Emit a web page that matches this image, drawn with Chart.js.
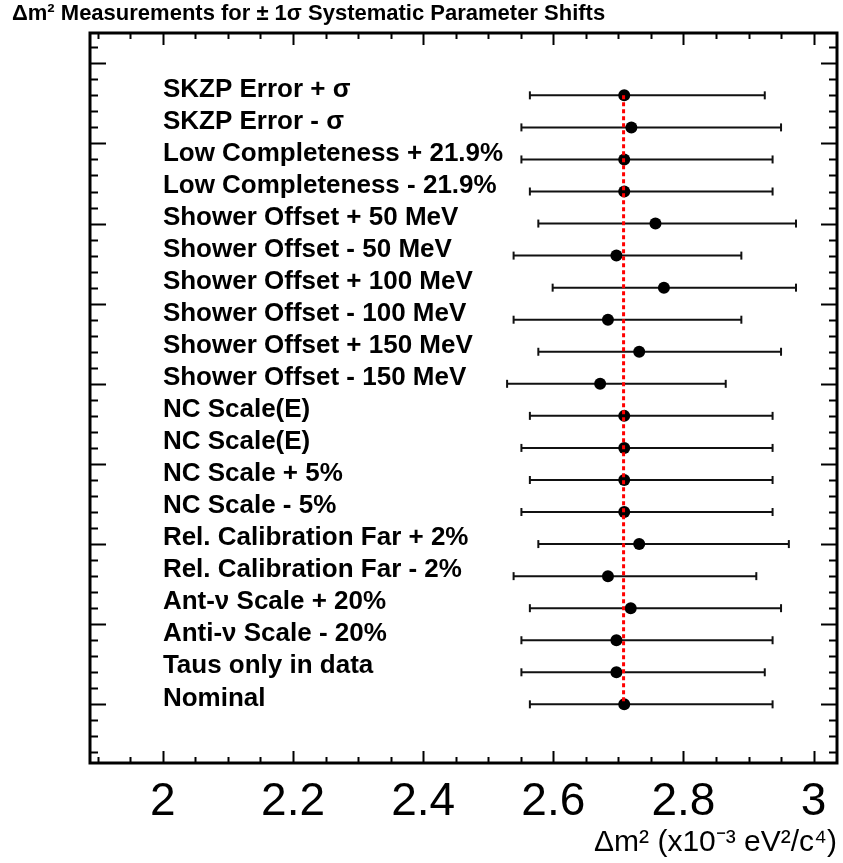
<!DOCTYPE html>
<html>
<head>
<meta charset="utf-8">
<script src="https://cdn.jsdelivr.net/npm/chart.js@4.4.0/dist/chart.umd.min.js"></script>
<style>
  html, body { margin: 0; padding: 0; background: #fff; }
</style>
</head>
<body>
<canvas id="chartDm2" width="843" height="863"></canvas>
<script>
'use strict'

var FONT = '"Liberation Sans", Arial, Helvetica, sans-serif';

// rows, top to bottom
var rowLabels = [
    'SKZP Error + σ',
    'SKZP Error - σ',
    'Low Completeness + 21.9%',
    'Low Completeness - 21.9%',
    'Shower Offset + 50 MeV',
    'Shower Offset - 50 MeV',
    'Shower Offset + 100 MeV',
    'Shower Offset - 100 MeV',
    'Shower Offset + 150 MeV',
    'Shower Offset - 150 MeV',
    'NC Scale(E)',
    'NC Scale(E)',
    'NC Scale + 5%',
    'NC Scale - 5%',
    'Rel. Calibration Far + 2%',
    'Rel. Calibration Far - 2%',
    'Ant-ν Scale + 20%',
    'Anti-ν Scale - 20%',
    'Taus only in data',
    'Nominal'
];
var rowY = [38, 36, 34, 32, 30, 28, 26, 24, 22, 20, 18, 16, 14, 12, 10, 8, 6, 4, 2, 0];

// best fit dm2 and the ends of the 1 sigma bars (x10^-3 eV^2/c^4)
var dm2 = [2.709, 2.720, 2.709, 2.709, 2.757, 2.697, 2.770, 2.684, 2.732, 2.672,
           2.709, 2.709, 2.709, 2.709, 2.732, 2.684, 2.719, 2.697, 2.697, 2.709];
var errLow = [2.564, 2.551, 2.551, 2.564, 2.577, 2.539, 2.599, 2.539, 2.577, 2.529,
              2.564, 2.551, 2.564, 2.551, 2.577, 2.539, 2.564, 2.551, 2.551, 2.564];
var errHigh = [2.925, 2.950, 2.937, 2.937, 2.973, 2.889, 2.973, 2.889, 2.950, 2.865,
               2.937, 2.937, 2.937, 2.937, 2.962, 2.912, 2.950, 2.937, 2.925, 2.937];
var nominalDm2 = 2.708;

var xTickValues = [2, 2.2, 2.4, 2.6, 2.8, 3];
var xTickLabels = ['2', '2.2', '2.4', '2.6', '2.8', '3'];

var datasets = [];

// error bars, one little line per row
for (var i = 0; i < rowLabels.length; i++) {
    datasets.push({
        label: rowLabels[i],
        data: [{ x: errLow[i], y: rowY[i] }, { x: errHigh[i], y: rowY[i] }],
        showLine: true,
        borderColor: '#111',
        borderWidth: 2,
        pointStyle: 'line',
        rotation: 90,
        pointRadius: 4,
        pointBorderWidth: 2,
        pointBorderColor: '#111',
        order: 2
    });
}

datasets.push({
    label: 'dm2',
    data: dm2.map(function (v, k) { return { x: v, y: rowY[k] }; }),
    pointRadius: 6,
    pointBackgroundColor: '#000',
    pointBorderWidth: 0,
    order: 1
});

datasets.push({
    label: 'nominal',
    data: [{ x: nominalDm2, y: rowY[0] }, { x: nominalDm2, y: rowY[rowY.length - 1] }],
    showLine: true,
    borderColor: '#ff0000',
    borderWidth: 3,
    borderDash: [4, 3],
    pointRadius: 0,
    order: 0
});

// ROOT style frame with inward ticks
var framePlugin = {
    id: 'frame',
    afterDatasetsDraw: function (chart) {
        var c = chart.ctx, a = chart.chartArea;
        var xs = chart.scales.x, ys = chart.scales.y;
        c.save();
        c.strokeStyle = '#000';
        c.lineWidth = 2;
        c.beginPath();
        var v, px, len;
        for (v = 1.9; v <= xs.max + 1e-9; v += 0.05) {
            px = Math.round(xs.getPixelForValue(v)) + 0.5;
            len = Math.abs(v * 5 - Math.round(v * 5)) < 1e-6 ? 12 : 6;
            c.moveTo(px, a.bottom); c.lineTo(px, a.bottom - len);
            c.moveTo(px, a.top); c.lineTo(px, a.top + len);
        }
        for (v = -3; v <= ys.max; v += 1) {
            px = Math.round(ys.getPixelForValue(v)) + 0.5;
            len = v % 5 === 0 ? 16 : 8;
            c.moveTo(a.left, px); c.lineTo(a.left + len, px);
            c.moveTo(a.right, px); c.lineTo(a.right - len, px);
        }
        c.stroke();
        c.lineWidth = 3;
        c.strokeRect(a.left, a.top, a.right - a.left, a.bottom - a.top);
        c.restore();
    }
};

// row names inside the frame
var rowLabelPlugin = {
    id: 'rowLabels',
    afterDatasetsDraw: function (chart) {
        var c = chart.ctx;
        var xs = chart.scales.x, ys = chart.scales.y;
        c.save();
        c.fillStyle = '#000';
        c.font = 'bold 26px ' + FONT;
        c.textAlign = 'left';
        c.textBaseline = 'middle';
        var x0 = xs.getPixelForValue(2.0);
        for (var k = 0; k < rowLabels.length; k++) {
            c.fillText(rowLabels[k], x0, ys.getPixelForValue(rowY[k]) - 6);
        }
        c.restore();
    }
};

var ctx = document.getElementById('chartDm2');
var chartDm2 = new Chart(ctx, {
    type: 'scatter',
    data: { datasets: datasets },
    options: {
        responsive: false,
        animation: false,
        layout: { padding: { left: 12, right: 3, top: 0, bottom: 0 } },
        plugins: {
            legend: { display: false },
            tooltip: { enabled: false },
            title: {
                display: true,
                text: 'Δm² Measurements for ± 1σ Systematic Parameter Shifts',
                align: 'start',
                color: '#000',
                font: { family: FONT, size: 22, weight: 'bold' },
                padding: { top: 1, bottom: 5.6 }
            }
        },
        scales: {
            x: {
                type: 'linear',
                min: 1.888,
                max: 3.036,
                afterBuildTicks: function (s) {
                    s.ticks = xTickValues.map(function (v) { return { value: v }; });
                },
                afterFit: function (s) { s.height = 100; },
                grid: { display: false, drawTicks: false },
                border: { display: false },
                ticks: {
                    autoSkip: false,
                    maxRotation: 0,
                    color: '#000',
                    padding: 12,
                    font: { family: FONT, size: 46 },
                    callback: function (v, idx) { return xTickLabels[idx]; }
                },
                title: {
                    display: true,
                    text: 'Δm² (x10⁻³ eV²/c⁴)',
                    align: 'end',
                    color: '#000',
                    font: { family: FONT, size: 30 },
                    padding: { top: 0, bottom: 2 }
                }
            },
            y: {
                type: 'linear',
                min: -3.66,
                max: 41.89,
                afterFit: function (s) { s.width = 78; },
                grid: { display: false, drawTicks: false },
                border: { display: false },
                ticks: { display: false }
            }
        }
    },
    plugins: [framePlugin, rowLabelPlugin]
});
</script>
</body>
</html>
